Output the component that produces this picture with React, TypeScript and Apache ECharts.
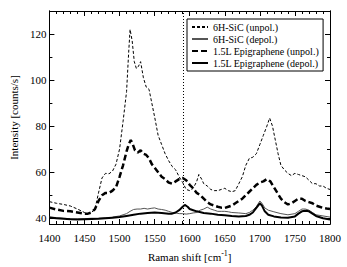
import React, { useEffect, useRef } from "react";
import * as echarts from "echarts";

const seriesNames = [
  "6H-SiC (unpol.)",
  "6H-SiC (depol.)",
  "1.5L Epigraphene (unpol.)",
  "1.5L Epigraphene (depol.)",
];

const sicUnpolX = [1400,1410,1420,1430,1440,1450,1455,1460,1465,1470,1475,1480,1485,1490,1495,1500,1505,1510,1513,1515,1518,1521,1524,1527,1530,1534,1538,1542,1546,1550,1555,1560,1565,1570,1575,1580,1585,1590,1595,1600,1605,1610,1613,1617,1620,1625,1630,1635,1640,1645,1650,1655,1660,1665,1670,1675,1680,1685,1690,1695,1700,1705,1710,1714,1718,1722,1726,1730,1735,1740,1745,1750,1755,1760,1765,1770,1775,1780,1785,1790,1795,1800];
const sicUnpolY = [47.2,46.5,46,45.3,44,42.5,42,42.5,44,51,57.5,59.5,59.3,60.5,63.5,70,82,95,112,122,117,108,105,106,108,101,97,96,90,84,76,72,68,65,62.5,61,58,55.5,52.5,52,53,56,59,57,55,54,52.5,52,52,52.5,53,52,51.5,52,55,58,63,66,66.5,68,72,76,80,83.5,80,74,68,63,61,59.5,58.5,59.5,59,58.5,58,56.5,55,55,54,54,53,52.5];

const sicDepolX = [1400,1410,1420,1430,1440,1450,1460,1470,1480,1490,1500,1505,1510,1515,1520,1525,1530,1535,1540,1545,1550,1555,1560,1565,1570,1575,1580,1585,1590,1595,1600,1605,1610,1615,1620,1625,1630,1635,1640,1645,1650,1655,1660,1670,1680,1685,1690,1695,1700,1703,1707,1712,1720,1730,1740,1750,1755,1760,1765,1770,1775,1780,1790,1800];
const sicDepolY = [40.5,40.3,40,39.8,39.7,39.8,40,40,40.2,40.5,41,41.5,42,43,43.8,44,44,44.3,44,44.3,44.5,44,43.8,43.5,43,42.5,42.3,42,42,41.8,42,42.3,42.5,43.5,44,44.8,44,43.5,43,43,43,42.8,42.5,42.3,42,42.5,43.5,45,47.5,46.5,44.5,43.5,42.8,42,41.5,42,43,44,44,43.5,42.5,41.5,41,40.5];

const epiUnpolX = [1400,1410,1420,1430,1440,1450,1455,1460,1465,1470,1475,1480,1485,1490,1495,1500,1505,1510,1513,1516,1519,1522,1526,1530,1534,1538,1542,1546,1550,1555,1560,1565,1570,1575,1580,1585,1590,1595,1600,1605,1610,1615,1620,1625,1630,1635,1640,1645,1650,1655,1660,1665,1670,1675,1680,1685,1690,1695,1700,1705,1710,1715,1720,1725,1730,1735,1740,1745,1750,1755,1760,1765,1770,1775,1780,1785,1790,1795,1800];
const epiUnpolY = [44.6,43.8,43.2,43,42.5,42,42,42.5,44,47.5,50,51,51,52,53.5,58,63,69,72,74,72,69.5,68.5,69.5,68,67.5,66,63.5,62,60,58,57,55.5,55,56,57,57.5,56.5,54.5,53,51,50,48.5,47,46,45.5,45,44.6,44.5,45,45.5,46.5,47.5,48.5,50,51.5,53,54.5,55.5,56,57,56,53.5,51,48.5,47,46,46.5,47.5,48.5,48.5,47.5,47,46.5,45.5,45,44.5,44.2,44];

const epiDepolX = [1400,1410,1420,1430,1440,1450,1460,1470,1480,1490,1500,1510,1520,1530,1540,1550,1560,1570,1575,1580,1585,1590,1593,1597,1600,1605,1610,1620,1630,1640,1650,1660,1670,1680,1685,1690,1695,1700,1703,1707,1712,1720,1730,1740,1750,1755,1760,1765,1770,1775,1780,1790,1800];
const epiDepolY = [40.3,40,39.8,39.6,39.5,39.6,39.7,39.8,40,40.2,40.5,41,41.5,42,42.3,42.5,42.3,42,42,42.5,43.5,45,45.8,45,44,43.5,43,42.3,42,41.5,41.3,41,40.8,41,41.5,42.5,44.5,46.5,45.5,43,41.5,40.8,40.3,40.2,40.8,42,43,43.3,43,42,41,40,39.5];

const markerX = 1591;
const yMajorTicks = [40, 60, 80, 100, 120];
const yMinorTicks = [50, 70, 90, 110, 130];

const zip = (xs: number[], ys: number[]) => xs.map((x, i) => [x, ys[i]]);

export default function App() {
  const ref = useRef<HTMLDivElement>(null);
  useEffect(() => {
    const chart = echarts.init(ref.current!, null, { renderer: "svg" });
    const font = "Times New Roman";
    const txt = { fontFamily: font, fontSize: 11, color: "#000", fontWeight: "normal" as const };
    const axisLine = { show: true, lineStyle: { color: "#000", width: 1 } };
    const yCommon = {
      type: "value" as const,
      min: 37.5,
      max: 130,
      splitLine: { show: false },
      axisLine,
    };
    const xCommon = {
      type: "value" as const,
      min: 1400,
      max: 1800,
      interval: 50,
      splitLine: { show: false },
      axisLine,
    };
    chart.setOption({
      animation: false,
      textStyle: { fontFamily: font, color: "#000", fontWeight: "normal" },
      grid: { left: 39, right: 17, top: 11, bottom: 38 },
      legend: {
        orient: "vertical",
        left: 187,
        top: 19,
        itemWidth: 16,
        itemHeight: 8,
        itemGap: 2,
        padding: [3, 4, 3, 4],
        borderColor: "#000",
        borderWidth: 1,
        backgroundColor: "#fff",
        itemStyle: { opacity: 0 },
        textStyle: { ...txt, fontSize: 10 },
        data: seriesNames,
      },
      xAxis: [
        {
          ...xCommon,
          position: "bottom",
          name: "{a|Raman shift [cm}{s|-1}{a|]}",
          nameLocation: "middle",
          nameGap: 25,
          nameTextStyle: {
            ...txt,
            rich: {
              a: { ...txt },
              s: { ...txt, fontSize: 8, padding: [0, 0, 7, 0] },
            },
          },
          axisTick: { inside: true, length: 5, lineStyle: { color: "#000" } },
          minorTick: { show: true, splitNumber: 5, length: 3, lineStyle: { color: "#000" } },
          axisLabel: { ...txt, margin: 8, formatter: (v: number) => String(v) },
        },
        {
          ...xCommon,
          position: "top",
          axisTick: { inside: true, length: 5, lineStyle: { color: "#000" } },
          minorTick: { show: true, splitNumber: 5, length: 3, lineStyle: { color: "#000" } },
          axisLabel: { show: false },
        },
      ],
      yAxis: [
        {
          ...yCommon,
          position: "left",
          name: "Intensity [counts/s]",
          nameLocation: "middle",
          nameGap: 26,
          nameTextStyle: { ...txt },
          axisTick: { inside: true, length: 5, customValues: yMajorTicks, lineStyle: { color: "#000" } },
          axisLabel: { ...txt, margin: 3, customValues: yMajorTicks },
        },
        {
          ...yCommon,
          position: "left",
          axisTick: { inside: true, length: 3, customValues: yMinorTicks, lineStyle: { color: "#000" } },
          axisLabel: { show: false, customValues: yMinorTicks },
        },
        {
          ...yCommon,
          position: "right",
          axisTick: { inside: true, length: 5, customValues: yMajorTicks, lineStyle: { color: "#000" } },
          axisLabel: { show: false, customValues: yMajorTicks },
        },
        {
          ...yCommon,
          position: "right",
          axisTick: { inside: true, length: 3, customValues: yMinorTicks, lineStyle: { color: "#000" } },
          axisLabel: { show: false, customValues: yMinorTicks },
        },
      ],
      series: [
        {
          name: seriesNames[0],
          type: "line",
          data: zip(sicUnpolX, sicUnpolY),
          showSymbol: false,
          symbol: "none",
          lineStyle: { color: "#000", width: 1, type: [3, 2] },
          itemStyle: { color: "#000" },
          markLine: {
            silent: true,
            symbol: "none",
            label: { show: false },
            lineStyle: { color: "#000", width: 1, type: [1, 2] },
            data: [{ xAxis: markerX }],
          },
        },
        {
          name: seriesNames[1],
          type: "line",
          data: zip(sicDepolX, sicDepolY),
          showSymbol: false,
          symbol: "none",
          lineStyle: { color: "#555", width: 1 },
          itemStyle: { color: "#555" },
        },
        {
          name: seriesNames[2],
          type: "line",
          data: zip(epiUnpolX, epiUnpolY),
          showSymbol: false,
          symbol: "none",
          lineStyle: { color: "#000", width: 2.5, type: [6, 3] },
          itemStyle: { color: "#000" },
        },
        {
          name: seriesNames[3],
          type: "line",
          data: zip(epiDepolX, epiDepolY),
          showSymbol: false,
          symbol: "none",
          lineStyle: { color: "#000", width: 2 },
          itemStyle: { color: "#000" },
        },
      ],
    });
    return () => chart.dispose();
  }, []);
  return <div ref={ref} style={{ width: 347, height: 267, position: "absolute", left: 0, top: 0 }} />;
}
